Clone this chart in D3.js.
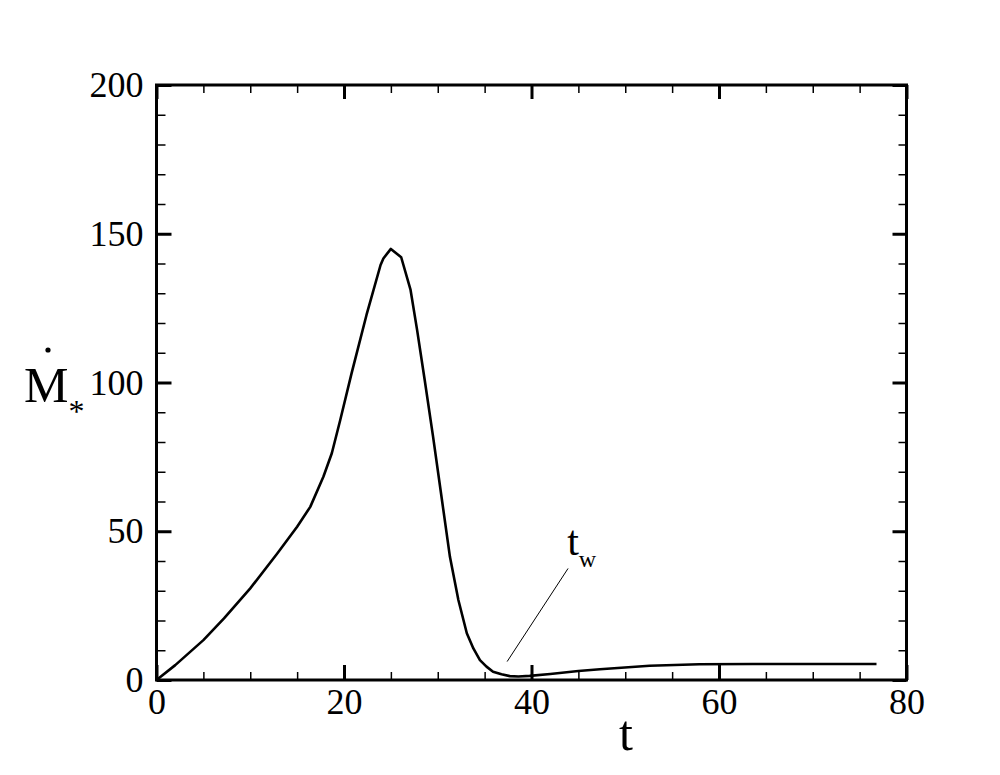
<!DOCTYPE html>
<html><head><meta charset="utf-8">
<script src="https://cdn.jsdelivr.net/npm/d3@7"></script>
<style>
html,body{margin:0;padding:0;background:#fff;}
svg{display:block;}
text{font-family:"Liberation Serif","Times New Roman",serif;fill:#000;}
</style></head>
<body>
<svg id="chart" width="1000" height="775"></svg>
<script>
// data
const tValues = [0, 2, 5, 7.2, 10, 12.9, 15, 16.4, 17.8, 18.7, 19.6, 20.8, 22.4, 23.9, 24.2, 25.0, 26.1, 27.1, 27.8, 28.6, 29.5, 30.4, 31.3, 32.2, 33.1, 33.8, 34.5, 35.2, 35.9, 36.8, 37.7, 38.6, 39.8, 42.0, 45, 47.3, 52.6, 57.9, 63.6, 70, 76.8];
const mdotValues = [0, 5.0, 13.4, 20.7, 30.8, 42.6, 51.5, 58.2, 68.3, 76.2, 87.4, 103, 122.7, 139.5, 141.7, 144.9, 142.1, 131.1, 117.6, 101, 81.8, 61.6, 41.4, 26.9, 15.7, 10.6, 6.7, 4.5, 2.8, 1.9, 1.3, 1.2, 1.4, 2.0, 3.0, 3.6, 4.8, 5.3, 5.4, 5.4, 5.4];
const xTicks = [0, 20, 40, 60, 80];
const yTicks = [0, 50, 100, 150, 200];
const xMinorStep = 5;
const yMinorStep = 10;
const annotLine = [[37.4, 6.2], [43.9, 37.5]];
const annotText = {t: 43.8, v: 42, label: "t", sub: "w"};

const svg = d3.select("#chart");
const m = {left: 156.5, right: 906.5, top: 85, bottom: 680};
const x = d3.scaleLinear().domain([0, 80]).range([m.left, m.right]);
const y = d3.scaleLinear().domain([0, 200]).range([m.bottom, m.top]);

const xMinor = d3.range(0, 80.001, xMinorStep).filter(v => !xTicks.includes(v));
const yMinor = d3.range(0, 200.001, yMinorStep).filter(v => !yTicks.includes(v));

function styleAxis(g, w) {
  g.select(".domain").remove();
  g.selectAll(".tick line").attr("stroke", "#000").attr("stroke-width", w);
  g.selectAll("text").attr("font-size", 36).attr("fill", "#000")
    .attr("font-family", '"Liberation Serif","Times New Roman",serif');
}
// bottom
svg.append("g").attr("transform", `translate(0,${m.bottom})`)
  .call(d3.axisBottom(x).tickValues(xTicks).tickSize(-15).tickPadding(8).tickFormat(d3.format("d")))
  .call(g => styleAxis(g, 3));
svg.append("g").attr("transform", `translate(0,${m.bottom})`)
  .call(d3.axisBottom(x).tickValues(xMinor).tickSize(-8).tickFormat(""))
  .call(g => styleAxis(g, 1.5));
// top
svg.append("g").attr("transform", `translate(0,${m.top})`)
  .call(d3.axisTop(x).tickValues(xTicks).tickSize(-14).tickFormat(""))
  .call(g => styleAxis(g, 3));
svg.append("g").attr("transform", `translate(0,${m.top})`)
  .call(d3.axisTop(x).tickValues(xMinor).tickSize(-8).tickFormat(""))
  .call(g => styleAxis(g, 1.5));
// left
svg.append("g").attr("transform", `translate(${m.left},0)`)
  .call(d3.axisLeft(y).tickValues(yTicks).tickSize(-15).tickPadding(13).tickFormat(d3.format("d")))
  .call(g => styleAxis(g, 3));
svg.append("g").attr("transform", `translate(${m.left},0)`)
  .call(d3.axisLeft(y).tickValues(yMinor).tickSize(-9).tickFormat(""))
  .call(g => styleAxis(g, 1.5));
// right
svg.append("g").attr("transform", `translate(${m.right},0)`)
  .call(d3.axisRight(y).tickValues(yTicks).tickSize(-14).tickFormat(""))
  .call(g => styleAxis(g, 3));
svg.append("g").attr("transform", `translate(${m.right},0)`)
  .call(d3.axisRight(y).tickValues(yMinor).tickSize(-8).tickFormat(""))
  .call(g => styleAxis(g, 1.5));

// frame
svg.append("rect").attr("x", m.left).attr("y", m.top)
  .attr("width", m.right - m.left).attr("height", m.bottom - m.top)
  .attr("fill", "none").attr("stroke", "#000").attr("stroke-width", 3);

// curve
const data = tValues.map((t, i) => [t, mdotValues[i]]);
svg.append("path").datum(data)
  .attr("fill", "none").attr("stroke", "#000").attr("stroke-width", 2.6)
  .attr("stroke-linejoin", "round")
  .attr("d", d3.line().x(d => x(d[0])).y(d => y(d[1])).curve(d3.curveLinear));

// annotation
svg.append("line")
  .attr("x1", x(annotLine[0][0])).attr("y1", y(annotLine[0][1]))
  .attr("x2", x(annotLine[1][0])).attr("y2", y(annotLine[1][1]))
  .attr("stroke", "#000").attr("stroke-width", 1);
const at = svg.append("text").attr("x", x(annotText.t)).attr("y", y(annotText.v)).attr("font-size", 42);
at.append("tspan").text(annotText.label);
at.append("tspan").attr("font-size", 24).attr("dy", 12).text(annotText.sub);

// axis titles
svg.append("text").attr("x", 626).attr("y", 750).attr("text-anchor", "middle")
  .attr("font-size", 50).text("t");
const yl = svg.append("text").attr("x", 24).attr("y", 402).attr("font-size", 50).attr("fill", "#000");
yl.append("tspan").attr("fill", "#000").text("M");
yl.append("tspan").attr("fill", "#000").attr("font-size", 32).attr("dy", 20).attr("dx", 0).text("*");
svg.append("circle").attr("cx", 48).attr("cy", 350).attr("r", 2.6).attr("fill", "#000");
</script>
</body></html>
